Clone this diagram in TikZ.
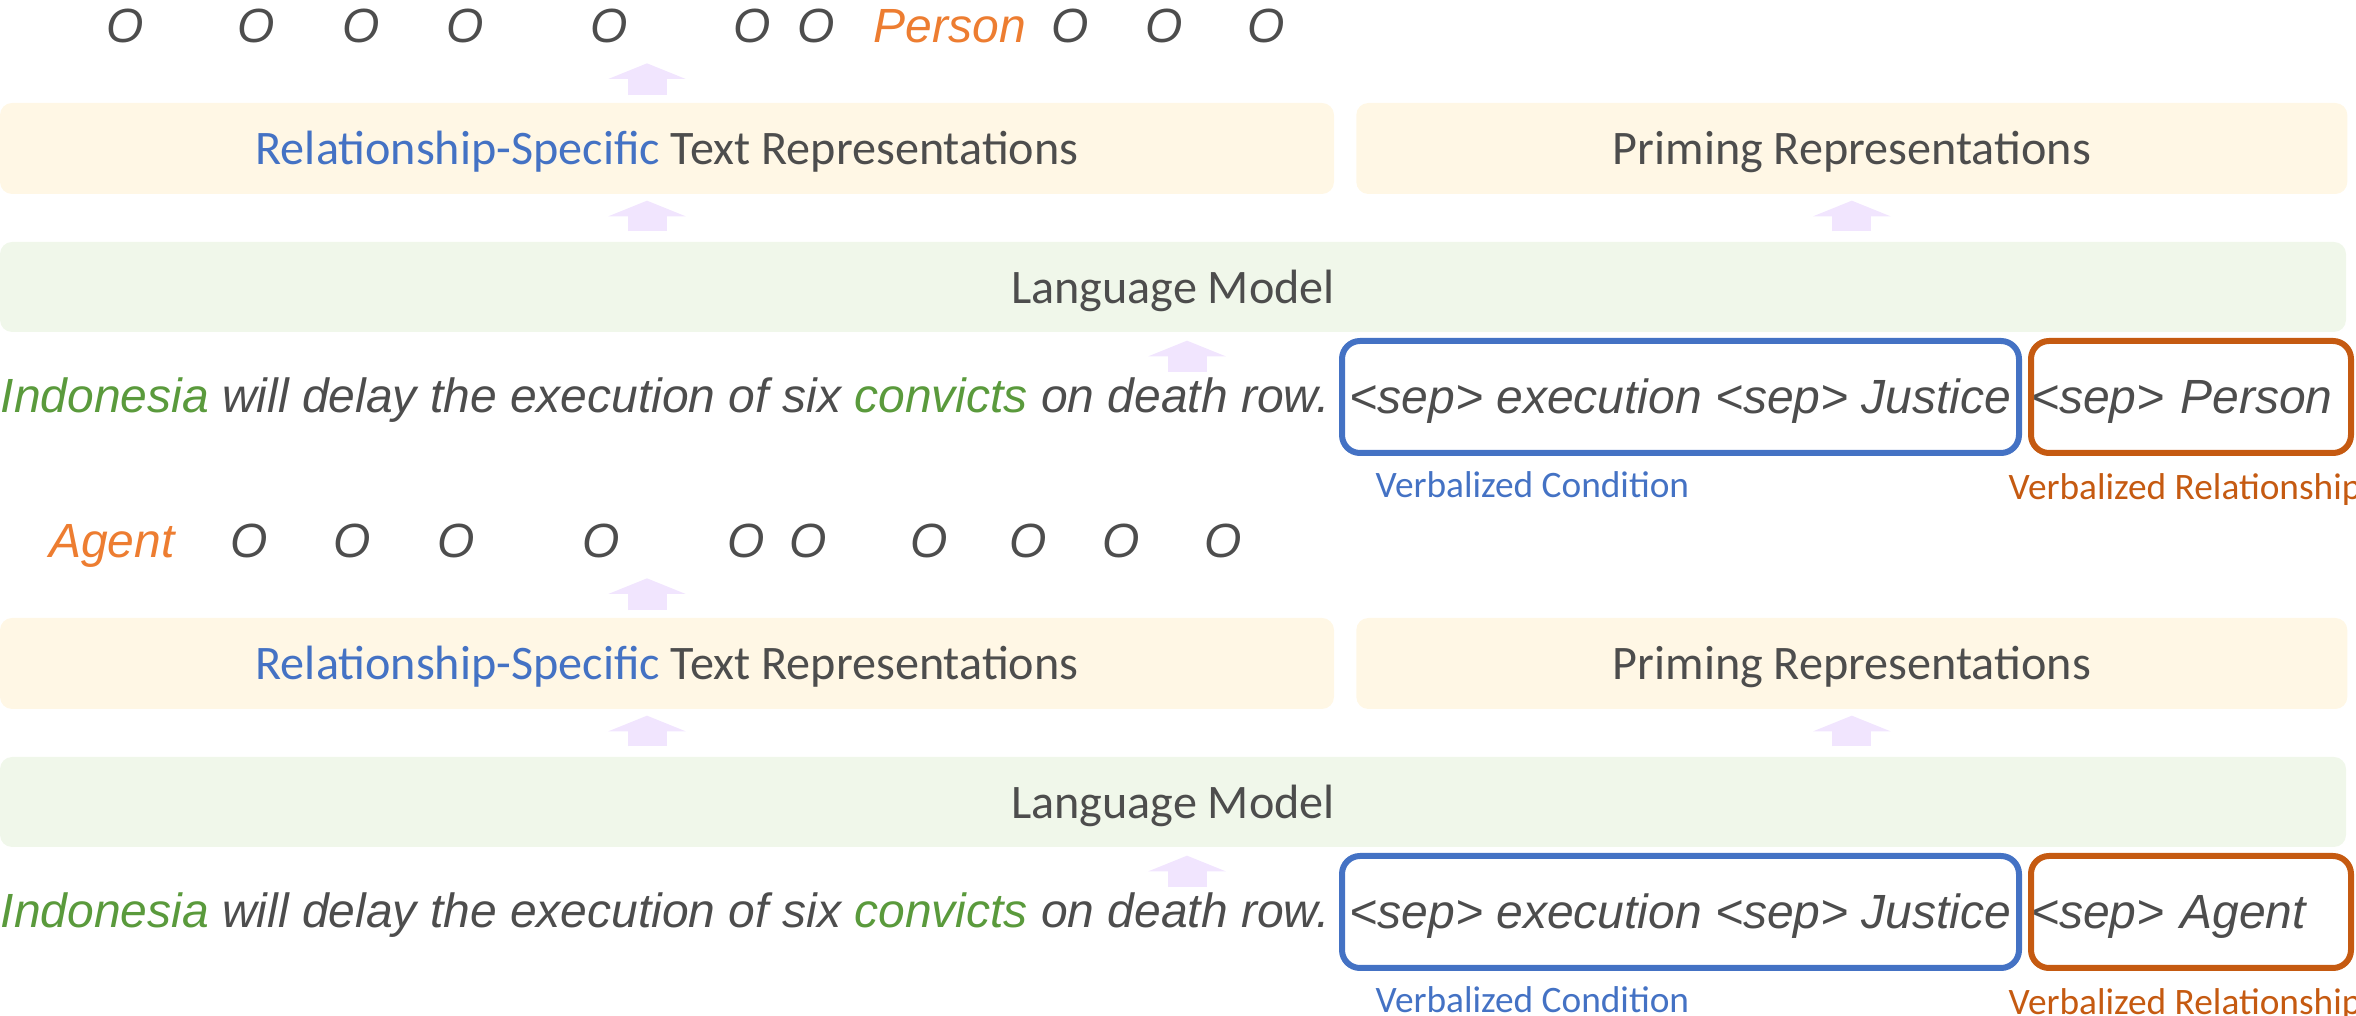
\documentclass[tikz,border=0pt]{standalone}
\usepackage{fontspec}
\setmainfont{Liberation Sans}
\newfontfamily\calibri{Carlito}
\usetikzlibrary{positioning,arrows.meta}
\definecolor{textgray}{HTML}{4D4D4D}
\definecolor{relblue}{HTML}{4472C4}
\definecolor{tagorange}{HTML}{ED7D31}
\definecolor{relorange}{HTML}{C55A11}
\definecolor{entgreen}{HTML}{5A9A3C}
\definecolor{repfill}{HTML}{FFF7E5}
\definecolor{lmfill}{HTML}{F0F7EA}
\definecolor{arrowfill}{HTML}{F1E5FE}
\begin{document}
\begin{tikzpicture}[x=0.3pt, y=-0.3pt,
  every node/.style = {inner sep=0pt, text=textgray},
  band/.style = {rounded corners=3.6pt, minimum height=27.3pt, text height=11pt, text depth=1.1pt,
    font=\calibri\fontsize{14.45pt}{17pt}\selectfont},
  rep/.style = {band, fill=repfill},
  lm/.style = {band, fill=lmfill, minimum width=703.8pt, minimum height=27pt},
  token/.style = {anchor=base, font=\itshape\fontsize{14.4pt}{17pt}\selectfont},
  seg/.style = {draw, line width=1.8pt, rounded corners=5.4pt, minimum height=33.6pt,
    text height=11pt, text depth=1.1pt, font=\itshape\fontsize{14.4pt}{17pt}\selectfont},
  note/.style = {anchor=base west, text depth=0pt, font=\calibri\fontsize{11.2pt}{13pt}\selectfont},
  uparrow/.style = {draw=arrowfill, line width=11.7pt, -{Triangle[width=23.1pt, length=4.7pt]}}]
  \useasboundingbox (0,0) rectangle (2356,1016);

  % two passes: Person, then Agent
  \foreach \i/\dy/\rel in {1/0/Person, 2/515/Agent} {
    \begin{scope}[shift={(0,\dy)}]
      \node[rep, minimum width=400.2pt] (rep\i) at (667,148.5)
        {\textcolor{relblue}{Relationship-Specific} Text Representations};
      \node[rep, minimum width=297.3pt, right=6.3pt of rep\i] (prime\i) {Priming Representations};
      \node[lm] (lm\i) at (1173,287) {Language Model};
      \node[token, anchor=base west] (sent\i) at (0,413)
        {\textcolor{entgreen}{Indonesia} will delay the execution of six \textcolor{entgreen}{convicts} on death row.};
      \node[seg, draw=relblue, minimum width=203.1pt] (cond\i) at (1680.5,397) {<sep> execution <sep> Justice};
      \node[seg, draw=relorange, inner xsep=0pt, text width=96pt, align=left, right=1.8pt of cond\i] (rel\i) {<sep> \rel};
      \node[note, text=relblue] (condlabel\i) at (1375,498) {Verbalized Condition};
      \node[note, text=relorange] (rellabel\i) at (2008,500) {Verbalized Relationship};
      \draw[uparrow, shorten <=2.1pt] ([xshift=-6pt]rep\i.north) -- ++(0,-39);
      \draw[uparrow, shorten <=3pt, shorten >=1.8pt] ([xshift=-6pt]rep\i.south |- lm\i.north) -- ([xshift=-6pt]rep\i.south);
      \draw[uparrow, shorten <=3pt, shorten >=1.8pt] (prime\i.south |- lm\i.north) -- (prime\i.south);
      \draw[uparrow, shorten <=1.8pt, shorten >=2.4pt] ([xshift=4.2pt]lm\i.south |- sent\i.north) -- ([xshift=4.2pt]lm\i.south);
    \end{scope}
  }

  % tag rows
  \foreach \x in {125,256,361,465,609,752,816,1070,1164,1266}
    \node[token] (tagA\x) at (\x,43) {O};
  \node[token, text=tagorange] (tagA950) at (950,43) {Person};
  \foreach \x in {249,352,456,601,746,808,929,1028,1121,1223}
    \node[token] (tagB\x) at (\x,558) {O};
  \node[token, text=tagorange] (tagB112) at (112,558) {Agent};
\end{tikzpicture}
\end{document}
